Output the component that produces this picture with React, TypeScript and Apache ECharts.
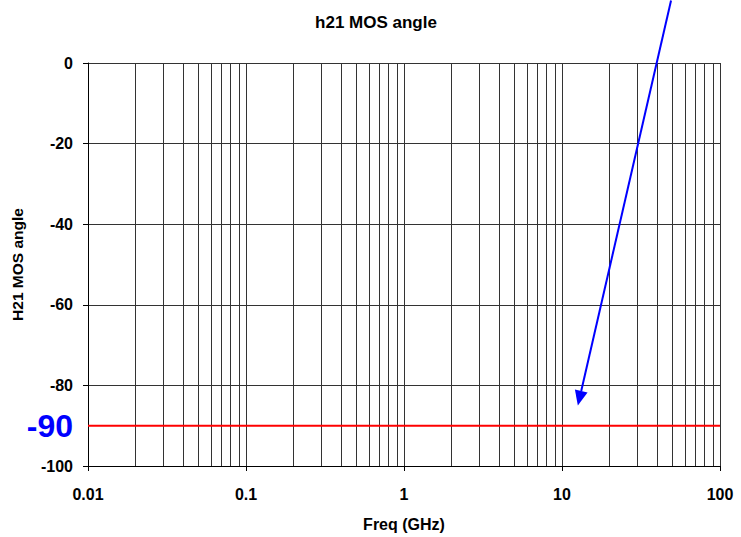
import React, { useEffect, useRef } from "react";
import * as echarts from "echarts";

const freqRange: number[] = [0.01, 100];
const refAngle: number[] = [-90, -90];
const minorFreqs: number[] = [
  0.02, 0.03, 0.04, 0.05, 0.06, 0.07, 0.08, 0.09,
  0.2, 0.3, 0.4, 0.5, 0.6, 0.7, 0.8, 0.9,
  2, 3, 4, 5, 6, 7, 8, 9,
  20, 30, 40, 50, 60, 70, 80, 90,
];
const arrowStart: number[] = [49, 15.5];
const arrowEnd: number[] = [12.6, -85];
const refLabel = "-90";

const FONT = "'Liberation Sans', Arial, sans-serif";

export default function App() {
  const ref = useRef<HTMLDivElement>(null);
  useEffect(() => {
    if (!ref.current) return;
    const chart = echarts.init(ref.current, undefined, { renderer: "svg" });
    chart.setOption({
      animation: false,
      backgroundColor: "#ffffff",
      title: {
        text: "h21 MOS angle",
        left: 371,
        top: 9,
        textAlign: "center",
        textStyle: { fontFamily: FONT, fontWeight: "bold", fontSize: 17, color: "#000" },
      },
      grid: { left: 88, width: 632, top: 63, height: 406, containLabel: false },
      xAxis: {
        type: "log",
        logBase: 10,
        min: 0.01,
        max: 100,
        name: "Freq (GHz)",
        nameLocation: "middle",
        nameGap: 50,
        nameTextStyle: { fontFamily: FONT, fontWeight: "bold", fontSize: 16, color: "#000" },
        axisLine: { show: true, onZero: false, lineStyle: { color: "#000", width: 1 } },
        axisTick: { show: true, inside: false, length: 5, lineStyle: { color: "#000" } },
        axisLabel: {
          fontFamily: FONT,
          fontWeight: "bold",
          fontSize: 16,
          color: "#000",
          margin: 20,
          formatter: (v: number) => String(v),
        },
        splitLine: { show: true, lineStyle: { color: "#333", width: 1 } },
      },
      yAxis: {
        type: "value",
        min: -100,
        max: 0,
        interval: 20,
        name: "H21 MOS angle",
        nameLocation: "middle",
        nameGap: 63,
        nameTextStyle: { fontFamily: FONT, fontWeight: "bold", fontSize: 15.5, color: "#000" },
        axisLine: { show: true, lineStyle: { color: "#000", width: 1 } },
        axisTick: { show: true, inside: false, length: 5, lineStyle: { color: "#000" } },
        axisLabel: {
          fontFamily: FONT,
          fontWeight: "bold",
          fontSize: 16,
          color: "#000",
          margin: 15,
        },
        splitLine: { show: true, lineStyle: { color: "#333", width: 1 } },
      },
      series: [
        {
          type: "line",
          data: freqRange.map((f, i) => [f, refAngle[i]]),
          symbol: "none",
          lineStyle: { color: "#ff0000", width: 2 },
          z: 5,
          markLine: {
            silent: true,
            symbol: "none",
            label: { show: false },
            lineStyle: { color: "#333", width: 1, type: "solid" },
            data: minorFreqs.map((f) => ({ xAxis: f })),
            z: 1,
          },
        },
      ],
    });

    const p0 = chart.convertToPixel({ gridIndex: 0 }, arrowStart) as number[];
    const p1 = chart.convertToPixel({ gridIndex: 0 }, arrowEnd) as number[];
    const pLab = chart.convertToPixel({ gridIndex: 0 }, [0.01, refAngle[0]]) as number[];
    const dx = p1[0] - p0[0];
    const dy = p1[1] - p0[1];
    const len = Math.sqrt(dx * dx + dy * dy);
    const ux = dx / len;
    const uy = dy / len;
    const headLen = 15;
    const headHalf = 6.5;
    const bx = p1[0] - ux * headLen;
    const by = p1[1] - uy * headLen;
    const nx = -uy;
    const ny = ux;

    chart.setOption({
      graphic: [
        {
          type: "line",
          shape: { x1: p0[0], y1: p0[1], x2: bx, y2: by },
          style: { stroke: "#0000ff", lineWidth: 2 },
          z: 100,
        },
        {
          type: "polygon",
          shape: {
            points: [
              [p1[0], p1[1]],
              [bx + nx * headHalf, by + ny * headHalf],
              [bx - nx * headHalf, by - ny * headHalf],
            ],
          },
          style: { fill: "#0000ff" },
          z: 100,
        },
        {
          type: "text",
          x: pLab[0] - 15,
          y: pLab[1],
          style: {
            text: refLabel,
            fill: "#0000ff",
            font: `bold 32px ${FONT}`,
            align: "right",
            verticalAlign: "middle",
          },
          z: 100,
        },
      ],
    });

    return () => chart.dispose();
  }, []);
  return <div ref={ref} style={{ width: 741, height: 537, position: "absolute", left: 0, top: 0 }} />;
}
